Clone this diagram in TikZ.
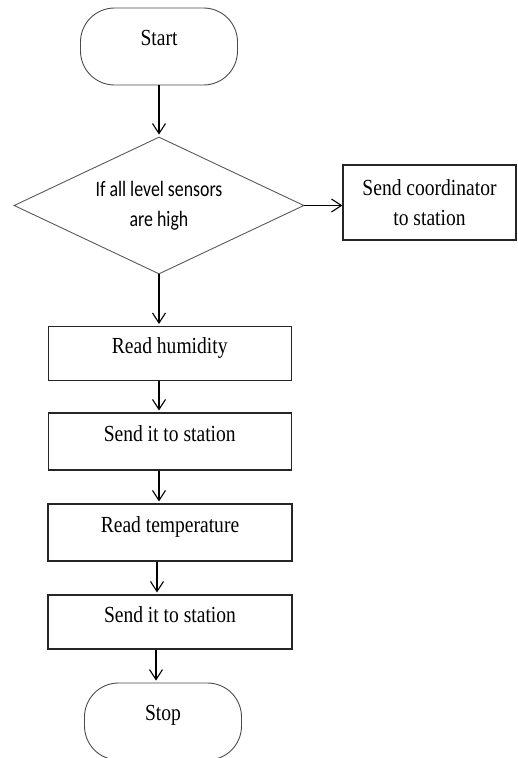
\documentclass[tikz,border=0pt]{standalone}
\usepackage{fontspec}
\setmainfont[FakeStretch=0.85]{Liberation Serif}
\newfontfamily\diafont[FakeStretch=0.81]{Carlito}
\usetikzlibrary{shapes.geometric,arrows.meta}

\tikzset{
  term/.style={draw=black!70, line width=0.9pt, rounded corners=34pt,
    minimum width=157pt, minimum height=77pt, inner sep=0pt,
    text height=16pt, text depth=19pt},
  box/.style={draw=black!85, line width=1.1pt, inner sep=0pt, minimum width=243pt},
  boxline/.style={box, text height=16pt, text depth=16pt},
  decision/.style={diamond, aspect=2.1, draw=black!65, line width=0.9pt, inner sep=0pt,
    minimum width=290pt, minimum height=137pt, align=center,
    font=\diafont\fontsize{22}{30}\selectfont},
  arr/.style={-{Straight Barb[length=10pt,width=13pt]}, line width=1.1pt, shorten >=2pt}
}

\begin{document}
\begin{tikzpicture}[x=1pt,y=-1pt,font=\fontsize{23}{30}\selectfont]
\useasboundingbox (0,0) rectangle (517,758);
\clip (0,0) rectangle (517,758);

\node[term] (start) at (159,46.5) {Start};
\node[decision] (cond) at (159,205.5) {If all level sensors\\are high};
\node[box, minimum width=173pt, minimum height=75pt, align=center] (coord) at (429.5,202.5) {Send coordinator\\to station};

\node[boxline, minimum height=54pt] (hum) at (169.75,353.5) {Read humidity};
\node[boxline, minimum height=57pt] (send1) at (169.75,441.5) {Send it to station};
\node[boxline, minimum height=57pt, minimum width=244pt] (temp) at (170,532.5) {Read temperature};
\node[boxline, minimum height=54pt, minimum width=244pt] (send2) at (170,622) {Send it to station};
\node[term] (stop) at (163,721.5) {Stop};

% connectors
\draw[arr] (start.south) -- (cond.north);
\draw[arr, shorten >=0pt] (cond.east) -- (cond.east -| coord.west);
\draw[arr] (cond.south) -- (cond.south |- hum.north);
\draw[arr] (hum.south -| cond.south) -- (send1.north -| cond.south);
\draw[arr] (send1.south -| cond.south) -- (temp.north -| cond.south);
\draw[arr] ([xshift=-2pt]temp.south -| cond.south) -- ([xshift=-2pt]send2.north -| cond.south);
\draw[arr] ([xshift=-3pt]send2.south -| cond.south) -- ([xshift=-3pt]stop.north -| cond.south);

\end{tikzpicture}
\end{document}
